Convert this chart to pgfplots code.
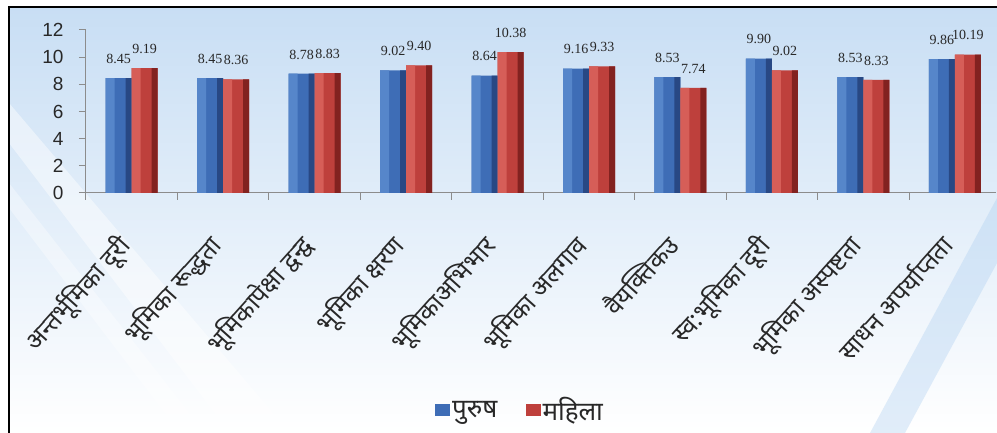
\documentclass[border=0pt]{standalone}
\usepackage{fontspec}
\usepackage{pgfplots}
\usepackage{pgfplotstable}
\pgfplotsset{compat=1.18}
\setmainfont{Liberation Sans}
\newfontfamily\deva[Script=Devanagari]{Noto Sans}
\newfontfamily\valfont{Liberation Serif}

\definecolor{bgblue}{RGB}{200,222,244}
\definecolor{streakblue}{RGB}{170,205,240}
\definecolor{barBlue}{RGB}{62,109,182}
\definecolor{barBlueL}{RGB}{86,134,202}
\definecolor{barBlueD}{RGB}{40,72,132}
\definecolor{barRed}{RGB}{190,64,60}
\definecolor{barRedL}{RGB}{214,94,88}
\definecolor{barRedD}{RGB}{130,34,32}
\definecolor{axisgray}{RGB}{140,140,140}
\definecolor{labelgray}{RGB}{40,40,40}

% mean scores by role-stress dimension
\pgfplotstableread{
idx purush mahila
0 8.45 9.19
1 8.45 8.36
2 8.78 8.83
3 9.02 9.40
4 8.64 10.38
5 9.16 9.33
6 8.53 7.74
7 9.90 9.02
8 8.53 8.33
9 9.86 10.19
}\roledata

\begin{document}
\begin{tikzpicture}
\useasboundingbox (0pt,0pt) rectangle (997pt,433pt);
% slide background with soft diagonal streaks
\shade[top color=bgblue, bottom color=white] (9pt,0pt) rectangle (997pt,426pt);
\begin{scope}
  \clip (9pt,0pt) rectangle (997pt,426pt);
  \fill[white, opacity=0.45] (9pt,330pt) -- (9pt,290pt) -- (230pt,0pt) -- (290pt,0pt) -- cycle;
  \fill[white, opacity=0.35] (9pt,250pt) -- (9pt,225pt) -- (180pt,0pt) -- (205pt,0pt) -- cycle;
  \fill[streakblue, opacity=0.35] (870pt,0pt) -- (905pt,0pt) -- (997pt,170pt) -- (997pt,235pt) -- cycle;
\end{scope}
\draw[line width=2pt] (9pt,0pt) -- (9pt,426pt) -- (997pt,426pt);
\begin{axis}[
  at={(86pt,240pt)}, anchor=south west,
  scale only axis, width=910pt, height=163pt,
  xmin=-0.5, xmax=9.45, ymin=0, ymax=12,
  axis x line*=bottom, axis y line*=left,
  axis line style={axisgray, line width=1pt},
  ybar=0pt, bar width=26pt,
  tick align=outside,
  major tick length=7pt, minor tick length=7pt,
  xtick={0,...,9},
  minor xtick={-0.5,0.5,...,9.5},
  major x tick style={draw=none},
  minor x tick style={draw=axisgray, line width=1pt},
  xticklabels={{अन्तर्भूमिका दूरी},{भूमिका रूद्धता},{भूमिकापेक्षा द्वन्द्व},{भूमिका क्षरण},{भूमिकाअभिभार},{भूमिका अलगाव},{वैयक्तिकउ},{स्व:भूमिका दूरी},{भूमिका अस्पष्टता},{साधन अपर्याप्तता}},
  xticklabel style={font=\deva\fontsize{25}{28}\selectfont, text=labelgray, xshift=-17pt, yshift=-27pt, rotate=48, anchor=north east},
  ytick={0,2,...,12},
  ytick style={draw=axisgray, line width=1pt},
  yticklabel style={font=\fontsize{19}{20}\selectfont, text=labelgray, xshift=-12pt},
  /pgf/number format/assume math mode=true,
  clip=false,
  every node near coord/.append style={font=\valfont\fontsize{14}{15}\selectfont, text=labelgray, yshift=11pt},
  legend columns=2,
  legend style={at={(0.477,-1.331)}, anchor=center, draw=none, fill=none,
    font=\deva\fontsize{26}{28}\selectfont, text=labelgray,
    /tikz/every even column/.append style={column sep=26pt}},
  legend image code/.code={\path[#1,/tikz/.cd] (0pt,-6pt) rectangle (15pt,6pt);},
]
% bar bodies, with the value printed above each bar
\addplot[draw=none, fill=barBlue, bar shift=-13pt,
  nodes near coords={\pgfmathprintnumber[fixed,fixed zerofill,precision=2]{\pgfplotspointmeta}}]
  table[x=idx, y=purush] {\roledata};
\addplot[draw=none, fill=barRed, bar shift=13pt,
  nodes near coords={\pgfmathprintnumber[fixed,fixed zerofill,precision=2]{\pgfplotspointmeta}}]
  table[x=idx, y=mahila] {\roledata};
\legend{पुरुष, महिला}
% light left faces and dark right faces of the bars
\addplot[draw=none, fill=barBlueL, bar width=9pt, bar shift=-21.5pt, forget plot] table[x=idx, y=purush] {\roledata};
\addplot[draw=none, fill=barBlueD, bar width=6pt, bar shift=-3pt, forget plot] table[x=idx, y=purush] {\roledata};
\addplot[draw=none, fill=barRedL, bar width=9pt, bar shift=4.5pt, forget plot] table[x=idx, y=mahila] {\roledata};
\addplot[draw=none, fill=barRedD, bar width=6pt, bar shift=23pt, forget plot] table[x=idx, y=mahila] {\roledata};
\end{axis}
\end{tikzpicture}
\end{document}
